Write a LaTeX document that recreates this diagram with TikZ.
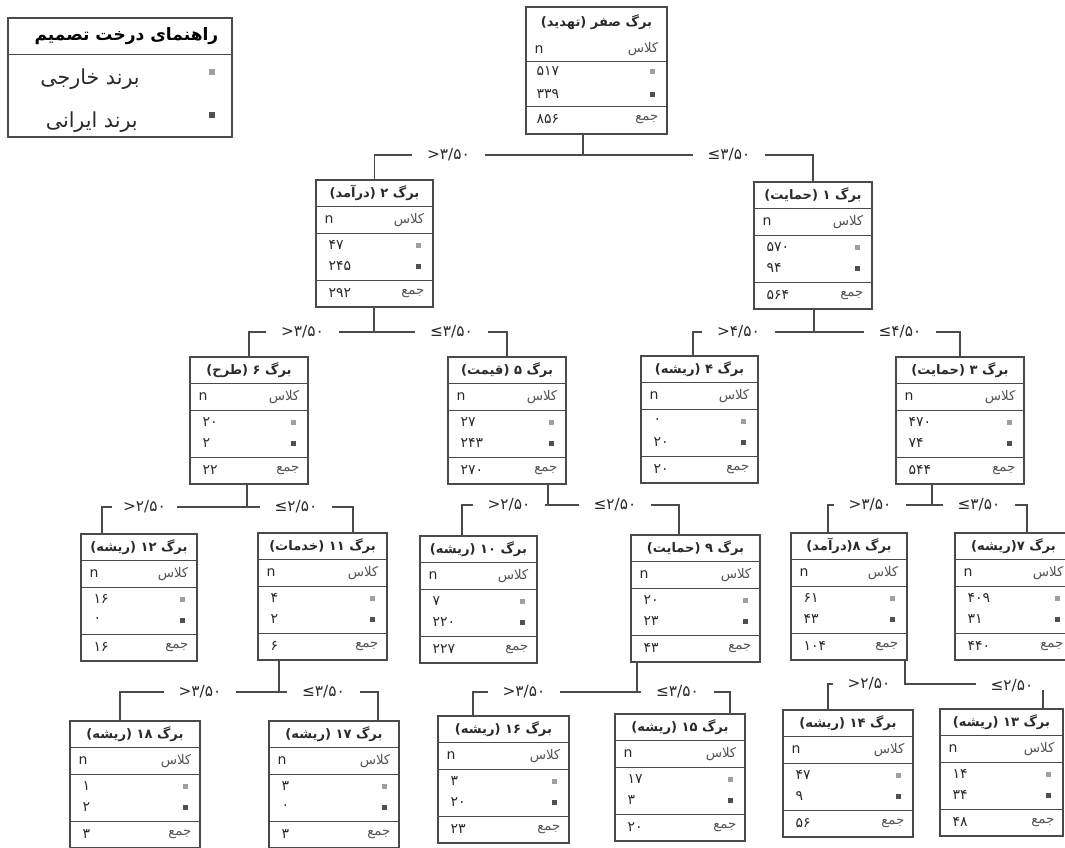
\documentclass[tikz,border=0pt]{standalone}
\usepackage{fontspec}
\usetikzlibrary{calc,fit}
\TeXXeTstate=1
\newfontfamily\arabicfont[Script=Arabic]{DejaVu Sans}
\newfontfamily\latinfont{DejaVu Sans}
\newcommand\condgt[1]{{\latinfont >}{\arabicfont #1}}
\newcommand\condle[1]{{\latinfont ≤}{\arabicfont #1}}
\definecolor{ln}{HTML}{4A4A4A}
\definecolor{sqA}{HTML}{A0A0A0}
\definecolor{sqB}{HTML}{505050}
\definecolor{tx}{HTML}{2A2A2A}
\definecolor{tl}{HTML}{555555}
\tikzset{
  box/.style={draw=ln, line width=0.9pt, inner sep=0pt},
  sepline/.style={draw=ln, line width=0.9pt},
  wire/.style={draw=ln, line width=0.9pt},
  ttl/.style={font=\fontsize{9.8}{11}\selectfont\bfseries, text=tx, inner sep=0pt},
  lbl/.style={font=\fontsize{10}{12}\selectfont, text=tl, inner sep=0pt},
  num/.style={font=\fontsize{10.5}{12}\selectfont, text=tx, inner sep=0pt},
  sqa/.style={fill=sqA, minimum size=3.8pt, inner sep=0pt},
  sqb/.style={fill=sqB, minimum size=3.8pt, inner sep=0pt},
  cond/.style={font=\fontsize{11.5}{13}\selectfont, text=tx, minimum width=54pt, inner sep=0pt},
  legt/.style={font=\fontsize{12.8}{14}\selectfont\bfseries, text=black, inner sep=0pt},
  legi/.style={font=\fontsize{15.5}{17}\selectfont, text=tx, inner sep=0pt},
}
% name, xl, xr, ytop, title, v1, v2, total
\newcommand\leaf[8]{%
  \node[box, fit={(#2,#4) (#3,#4+127)}] (#1) {};
  \draw[sepline] ($(#1.north west)+(0,27)$) -- ($(#1.north east)+(0,27)$);
  \draw[sepline] ($(#1.north west)+(0,54)$) -- ($(#1.north east)+(0,54)$);
  \draw[sepline] ($(#1.north west)+(0,101)$) -- ($(#1.north east)+(0,101)$);
  \node[ttl] (#1-t) at ($(#1.north)+(0,13.5)$) {\arabicfont #5};
  \node[lbl, anchor=east] (#1-c) at ($(#1.north east)+(-9,40.5)$) {\arabicfont\beginR کلاس\endR};
  \node[num, anchor=west] (#1-n) at ($(#1.north west)+(9,40.5)$) {\latinfont n};
  \node[num, anchor=west] (#1-a) at ($(#1.north west)+(13,66)$) {\arabicfont #6};
  \node[num, anchor=west] (#1-b) at ($(#1.north west)+(13,87)$) {\arabicfont #7};
  \node[sqa] (#1-sa) at ($(#1.north east)+(-15,66)$) {};
  \node[sqb] (#1-sb) at ($(#1.north east)+(-15,87)$) {};
  \node[num, anchor=west] (#1-s) at ($(#1.north west)+(13,114)$) {\arabicfont #8};
  \node[lbl, anchor=east] (#1-j) at ($(#1.north east)+(-9,114)$) {\arabicfont\beginR جمع\endR};
}
\begin{document}
\begin{tikzpicture}[x=0.75pt, y=-0.75pt]
\fill[white] (0,0) rectangle (1065,847);
\useasboundingbox (0,0) rectangle (1065,847);

% legend
\node[box, fit={(8,18) (232,137)}] (leg) {};
\draw[sepline] ($(leg.north west)+(0,37)$) -- ($(leg.north east)+(0,37)$);
\node[legt, anchor=east] (leg-t) at ($(leg.north east)+(-14,19)$) {\arabicfont\beginR راهنمای درخت تصمیم\endR};
\node[sqa] (leg-sa) at (212,72) {};
\node[legi, anchor=east] (leg-a) at (140,79) {\arabicfont\beginR برند خارجی\endR};
\node[sqb] (leg-sb) at (212,115) {};
\node[legi, anchor=east] (leg-b) at (138,122) {\arabicfont\beginR برند ایرانی\endR};

% root
\node[box, fit={(526,7) (667,134)}] (root) {};
\draw[sepline] ($(root.north west)+(0,55)$) -- ($(root.north east)+(0,55)$);
\draw[sepline] ($(root.north west)+(0,100)$) -- ($(root.north east)+(0,100)$);
\node[ttl] (root-t) at ($(root.north)+(0,16)$) {\arabicfont\beginR برگ صفر (تهدید)\endR};
\node[lbl, anchor=east] (root-c) at ($(root.north east)+(-9,43)$) {\arabicfont\beginR کلاس\endR};
\node[num, anchor=west] (root-n) at ($(root.north west)+(9,43)$) {\latinfont n};
\node[num, anchor=west] (root-a) at ($(root.north west)+(11,65)$) {\arabicfont ۵۱۷};
\node[num, anchor=west] (root-b) at ($(root.north west)+(11,88)$) {\arabicfont ۳۳۹};
\node[sqa] (root-sa) at ($(root.north east)+(-15,65)$) {};
\node[sqb] (root-sb) at ($(root.north east)+(-15,88)$) {};
\node[num, anchor=west] (root-s) at ($(root.north west)+(11,113)$) {\arabicfont ۸۵۶};
\node[lbl, anchor=east] (root-j) at ($(root.north east)+(-9,113)$) {\arabicfont\beginR جمع\endR};

% leaves
\leaf{n2}{316}{433}{180}{\beginR برگ ۲ (درآمد)\endR}{۴۷}{۲۴۵}{۲۹۲}
\leaf{n1}{754}{872}{182}{\beginR برگ ۱ (حمایت)\endR}{۵۷۰}{۹۴}{۵۶۴}
\leaf{n6}{190}{308}{357}{\beginR برگ ۶ (طرح)\endR}{۲۰}{۲}{۲۲}
\leaf{n5}{448}{566}{357}{\beginR برگ ۵ (قیمت)\endR}{۲۷}{۲۴۳}{۲۷۰}
\leaf{n4}{641}{758}{356}{\beginR برگ ۴ (ریشه)\endR}{۰}{۲۰}{۲۰}
\leaf{n3}{896}{1024}{357}{\beginR برگ ۳ (حمایت)\endR}{۴۷۰}{۷۴}{۵۴۴}
\leaf{n12}{81}{197}{534}{\beginR برگ ۱۲ (ریشه)\endR}{۱۶}{۰}{۱۶}
\leaf{n11}{258}{387}{533}{\beginR برگ ۱۱ (خدمات)\endR}{۴}{۲}{۶}
\leaf{n10}{420}{537}{536}{\beginR برگ ۱۰ (ریشه)\endR}{۷}{۲۲۰}{۲۲۷}
\leaf{n9}{631}{760}{535}{\beginR برگ ۹ (حمایت)\endR}{۲۰}{۲۳}{۴۳}
\leaf{n8}{791}{907}{533}{\beginR برگ ۸(درآمد)\endR}{۶۱}{۴۳}{۱۰۴}
\leaf{n7}{955}{1072}{533}{\beginR برگ ۷(ریشه)\endR}{۴۰۹}{۳۱}{۴۴۰}
\leaf{n18}{70}{200}{721}{\beginR برگ ۱۸ (ریشه)\endR}{۱}{۲}{۳}
\leaf{n17}{269}{399}{721}{\beginR برگ ۱۷ (ریشه)\endR}{۳}{۰}{۳}
\leaf{n16}{438}{569}{716}{\beginR برگ ۱۶ (ریشه)\endR}{۳}{۲۰}{۲۳}
\leaf{n15}{615}{745}{714}{\beginR برگ ۱۵ (ریشه)\endR}{۱۷}{۳}{۲۰}
\leaf{n14}{783}{913}{710}{\beginR برگ ۱۴ (ریشه)\endR}{۴۷}{۹}{۵۶}
\leaf{n13}{940}{1063}{709}{\beginR برگ ۱۳ (ریشه)\endR}{۱۴}{۳۴}{۴۸}

% level 1
\coordinate (j0) at (583,155);
\node[cond] (c0l) at (448.5,155) {\condgt{۳/۵۰}};
\node[cond] (c0r) at (729,155) {\condle{۳/۵۰}};
\draw[wire] (j0 |- root.south) -- (j0);
\draw[wire] (c0l.east) -- (c0r.west);
\draw[wire] (c0l.west) -| (n2.north);
\draw[wire] (c0r.east) -| (n1.north);

% level 2a
\coordinate (j2) at (374,332);
\node[cond] (c2l) at (302.5,332) {\condgt{۳/۵۰}};
\node[cond] (c2r) at (451.5,332) {\condle{۳/۵۰}};
\draw[wire] (j2 |- n2.south) -- (j2);
\draw[wire] (c2l.east) -- (c2r.west);
\draw[wire] (c2l.west) -| (n6.north);
\draw[wire] (c2r.east) -| (n5.north);

% level 2b
\coordinate (j1) at (814,332);
\coordinate (k4) at (693,332);
\node[cond] (c1l) at (738.5,332) {\condgt{۴/۵۰}};
\node[cond] (c1r) at (900,332) {\condle{۴/۵۰}};
\draw[wire] (j1 |- n1.south) -- (j1);
\draw[wire] (c1l.east) -- (c1r.west);
\draw[wire] (c1l.west) -- (k4) -- (k4 |- n4.north);
\draw[wire] (c1r.east) -| (n3.north);

% level 3a
\coordinate (j6) at (247,507);
\coordinate (k12) at (102,507);
\coordinate (k11) at (353,507);
\node[cond, minimum width=48pt] (c6l) at (144.5,507) {\condgt{۲/۵۰}};
\node[cond] (c6r) at (296,507) {\condle{۲/۵۰}};
\draw[wire] (j6 |- n6.south) -- (j6);
\draw[wire] (c6l.east) -- (c6r.west);
\draw[wire] (c6l.west) -- (k12) -- (k12 |- n12.north);
\draw[wire] (c6r.east) -- (k11) -- (k11 |- n11.north);

% level 3b
\coordinate (j5) at (548,505);
\coordinate (k10) at (462,505);
\coordinate (k9) at (679,505);
\node[cond] (c5l) at (509,505) {\condgt{۲/۵۰}};
\node[cond] (c5r) at (615,505) {\condle{۲/۵۰}};
\draw[wire] (j5 |- n5.south) -- (j5);
\draw[wire] (c5l.east) -- (c5r.west);
\draw[wire] (c5l.west) -- (k10) -- (k10 |- n10.north);
\draw[wire] (c5r.east) -- (k9) -- (k9 |- n9.north);

% level 3c
\coordinate (j3) at (932,505);
\coordinate (k8) at (828,505);
\coordinate (k7) at (1027,505);
\node[cond] (c3l) at (870,505) {\condgt{۳/۵۰}};
\node[cond] (c3r) at (979,505) {\condle{۳/۵۰}};
\draw[wire] (j3 |- n3.south) -- (j3);
\draw[wire] (c3l.east) -- (c3r.west);
\draw[wire] (c3l.west) -- (k8) -- (k8 |- n8.north);
\draw[wire] (c3r.east) -- (k7) -- (k7 |- n7.north);

% level 4a
\coordinate (j11) at (279,692);
\coordinate (k18) at (120,692);
\coordinate (k17) at (378,692);
\node[cond] (c11l) at (200,692) {\condgt{۳/۵۰}};
\node[cond] (c11r) at (323.5,692) {\condle{۳/۵۰}};
\draw[wire] (j11 |- n11.south) -- (j11);
\draw[wire] (c11l.east) -- (c11r.west);
\draw[wire] (c11l.west) -- (k18) -- (k18 |- n18.north);
\draw[wire] (c11r.east) -- (k17) -- (k17 |- n17.north);

% level 4b
\coordinate (j9) at (637,692);
\coordinate (k16) at (473,692);
\coordinate (k15) at (730,692);
\node[cond] (c9l) at (524,692) {\condgt{۳/۵۰}};
\node[cond] (c9r) at (677.5,692) {\condle{۳/۵۰}};
\draw[wire] (j9 |- n9.south) -- (j9);
\draw[wire] (c9l.east) -- (c9r.west);
\draw[wire] (c9l.west) -- (k16) -- (k16 |- n16.north);
\draw[wire] (c9r.east) -- (k15) -- (k15 |- n15.north);

% level 4c
\coordinate (j8) at (905,684);
\coordinate (k14) at (828,684);
\coordinate (k13) at (1043,690);
\node[cond] (c8l) at (869,684) {\condgt{۲/۵۰}};
\node[cond] (c8r) at (1012,686) {\condle{۲/۵۰}};
\draw[wire] (j8 |- n8.south) -- (j8) -- (j8 -| c8r.west);
\draw[wire] (c8l.west) -- (k14) -- (k14 |- n14.north);
\draw[wire] (k13) -- (k13 |- n13.north);
\end{tikzpicture}
\end{document}
